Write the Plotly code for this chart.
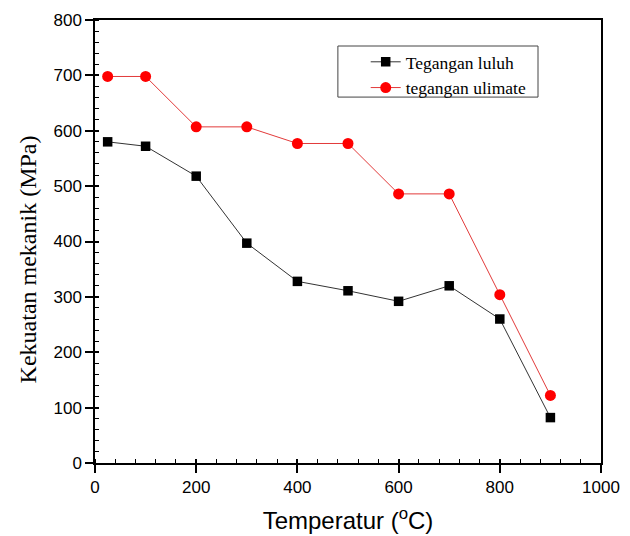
import plotly.graph_objects as go

temperature = [25, 100, 200, 300, 400, 500, 600, 700, 800, 900]
tegangan_luluh = [580, 572, 518, 397, 328, 311, 292, 320, 260, 82]
tegangan_ulimate = [698, 698, 607, 607, 577, 577, 486, 486, 304, 122]

x_ticks = [0, 200, 400, 600, 800, 1000]
y_ticks = [0, 100, 200, 300, 400, 500, 600, 700, 800]

fig = go.Figure()
fig.add_trace(go.Scatter(
    x=temperature, y=tegangan_luluh, name="Tegangan luluh",
    mode="lines+markers",
    line=dict(color="#333333", width=1),
    marker=dict(symbol="square", size=9.5, color="black"),
))
fig.add_trace(go.Scatter(
    x=temperature, y=tegangan_ulimate, name="tegangan ulimate",
    mode="lines+markers",
    line=dict(color="#e23a3a", width=1),
    marker=dict(symbol="circle", size=11, color="#ff0000"),
))
# invisible helper trace so the overlay axes (inner half of major ticks) are drawn
fig.add_trace(go.Scatter(x=[None], y=[None], xaxis="x2", yaxis="y2",
                         showlegend=False, hoverinfo="skip"))

axis_common = dict(
    showgrid=False, zeroline=False, automargin=False,
    showline=True, linecolor="black", linewidth=1.5, mirror=True,
    ticks="outside", ticklen=8, tickwidth=1.5, tickcolor="black",
    tickfont=dict(family="Liberation Sans, Arial", size=17, color="black"),
)

fig.update_layout(
    width=630, height=536,
    margin=dict(l=95, r=29, t=20, b=73),
    paper_bgcolor="white", plot_bgcolor="white",
    xaxis=dict(
        range=[0, 1000], tickvals=x_ticks,
        minor=dict(dtick=40, ticks="inside", ticklen=4, tickwidth=1.2, tickcolor="black"),
        title=dict(text="Temperatur (<sup>o</sup>C)",
                   font=dict(family="Liberation Sans, Arial", size=24, color="black"),
                   standoff=16),
        **axis_common,
    ),
    yaxis=dict(
        range=[0, 800], tickvals=y_ticks,
        minor=dict(dtick=20, ticks="inside", ticklen=4, tickwidth=1.2, tickcolor="black"),
        **axis_common,
    ),
    xaxis2=dict(range=[0, 1000], tickvals=x_ticks, overlaying="x", anchor="y2",
                showgrid=False, zeroline=False, showline=False, showticklabels=False,
                automargin=False,
                ticks="inside", ticklen=4, tickwidth=1.5, tickcolor="black", side="bottom"),
    yaxis2=dict(range=[0, 800], tickvals=y_ticks, overlaying="y", anchor="x2",
                showgrid=False, zeroline=False, showline=False, showticklabels=False,
                automargin=False,
                ticks="inside", ticklen=4, tickwidth=1.5, tickcolor="black", side="left"),
    legend=dict(
        x=0.535, y=0.946, xanchor="left", yanchor="top",
        borderwidth=0, bgcolor="rgba(0,0,0,0)",
        font=dict(family="Liberation Serif, Times New Roman", size=17.5, color="black"),
        tracegroupgap=0,
    ),
    showlegend=True,
    shapes=[dict(type="rect", xref="paper", yref="paper",
                 x0=0.480, x1=0.8755, y0=0.826, y1=0.9413,
                 line=dict(color="#444444", width=1), fillcolor="rgba(0,0,0,0)",
                 layer="above")],
    annotations=[dict(text="Kekuatan mekanik (MPa)", textangle=-90,
                      xref="paper", yref="paper", x=-0.132, y=0.46,
                      xanchor="center", yanchor="middle", showarrow=False,
                      font=dict(family="Liberation Serif, Times New Roman", size=24, color="black"))],
)

fig.write_html("out.html")
